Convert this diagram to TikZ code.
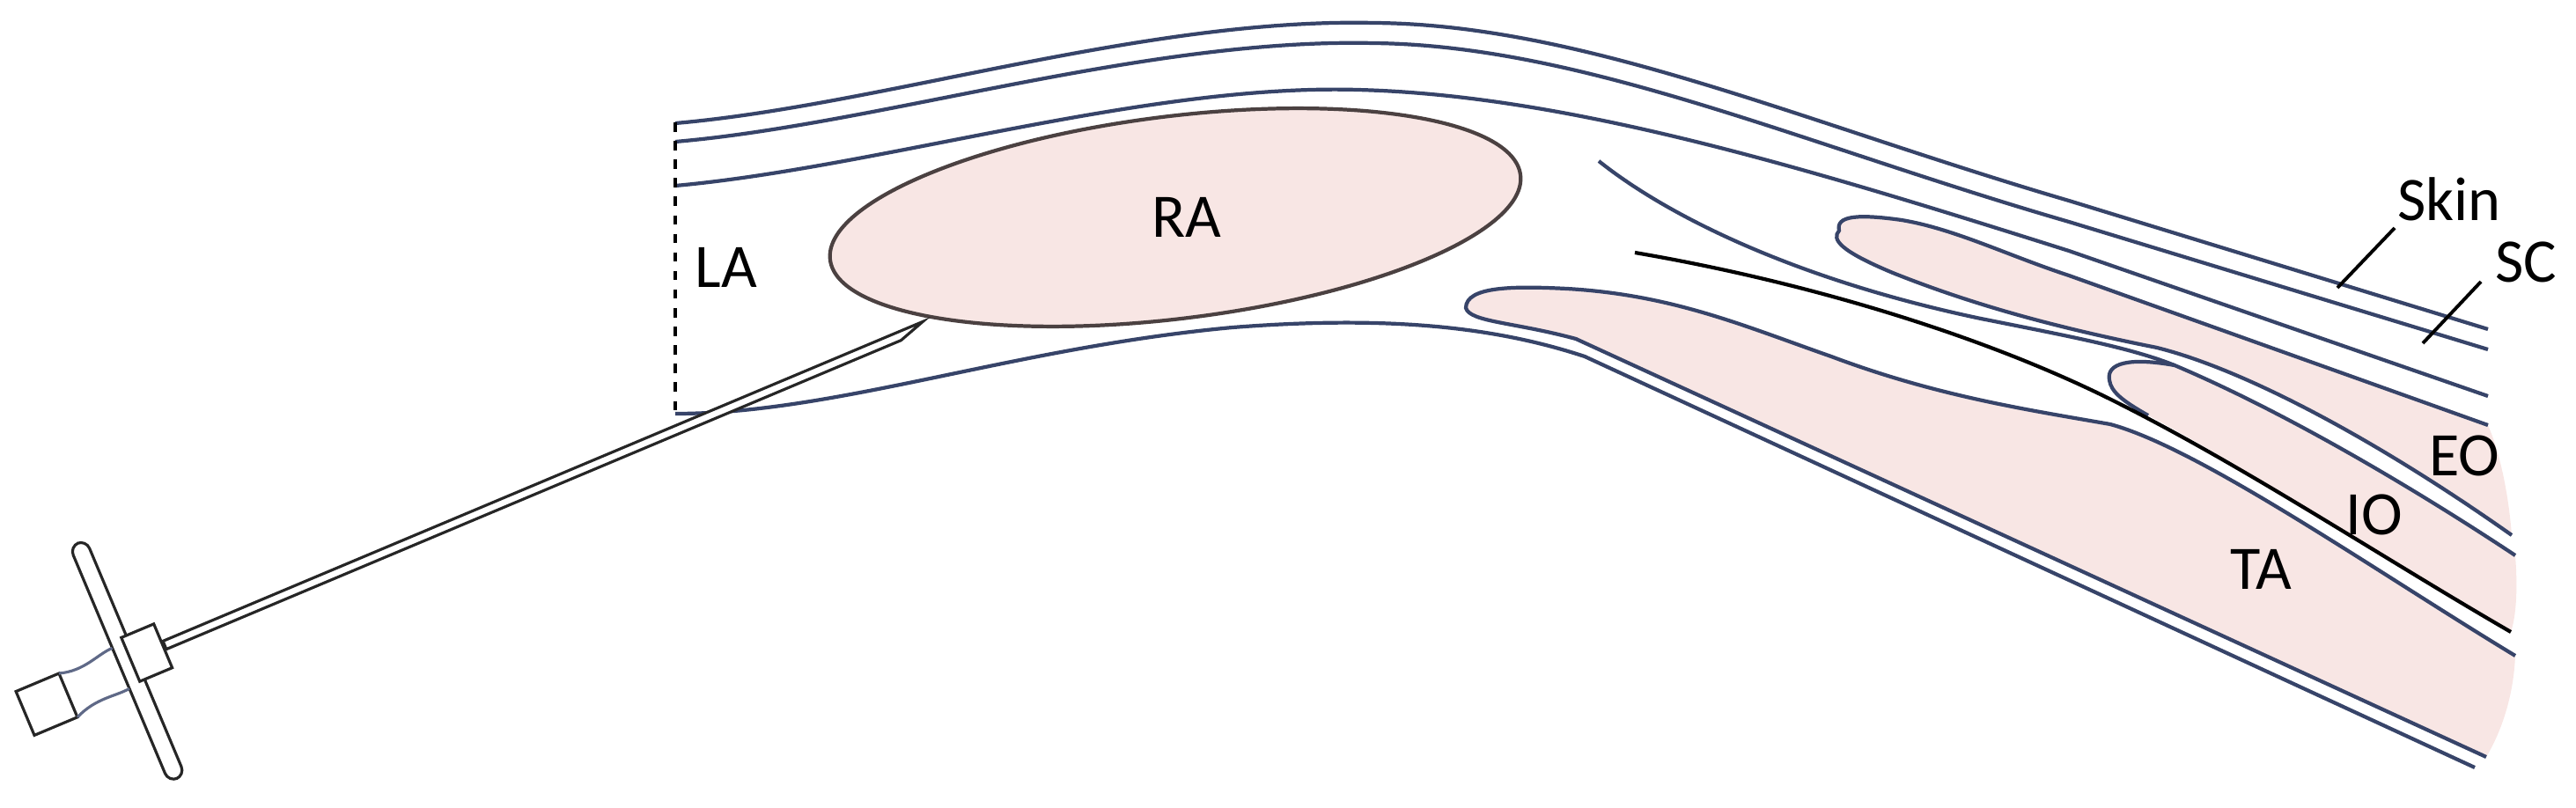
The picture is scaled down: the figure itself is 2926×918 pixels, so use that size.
\documentclass[tikz,border=0pt]{standalone}
\usepackage{fontspec}
\setmainfont{Carlito}
\definecolor{lc}{RGB}{55,68,105}
\definecolor{pinkm}{RGB}{248,230,228}
\definecolor{rac}{RGB}{75,65,65}
\begin{document}
\begin{tikzpicture}[x={(0.01cm,0)},y={(0,-0.01cm)},
  layer/.style={draw=lc,line width=1.2pt},
  muscle/.style={fill=pinkm,draw=none},
  lbl/.style={font=\fontsize{20}{24}\selectfont,inner sep=0pt},
  tick/.style={draw=black,line width=1.1pt},
  needle/.style={draw=black!85,line width=0.9pt,fill=white}]
\useasboundingbox (0,0) rectangle (2926,918);
% muscle fills
\fill[muscle] (2089,262) .. controls (2085,245) and (2110,243) .. (2160,250)
  .. controls (2220,260) and (2280,290) .. (2350,313) -- (2826,483)
  .. controls (2842,520) and (2850,570) .. (2853,608)
  .. controls (2700,500) and (2550,420) .. (2450,395)
  .. controls (2350,375) and (2250,350) .. (2150,310)
  .. controls (2090,285) and (2080,272) .. (2089,262) -- cycle;
\fill[muscle] (2396,432) .. controls (2392,412) and (2420,406) .. (2470,415)
  .. controls (2600,470) and (2750,560) .. (2857,631)
  .. controls (2860,670) and (2858,700) .. (2852,718)
  .. controls (2700,630) and (2550,530) .. (2440,472)
  .. controls (2410,455) and (2398,445) .. (2396,432) -- cycle;
\fill[muscle] (1665,350) .. controls (1665,325) and (1720,325) .. (1780,328)
  .. controls (1900,335) and (1980,370) .. (2080,405)
  .. controls (2200,450) and (2300,465) .. (2397,482)
  .. controls (2500,510) and (2700,650) .. (2857,745)
  .. controls (2855,790) and (2842,830) .. (2824,860)
  -- (1790,385) .. controls (1720,366) and (1670,366) .. (1665,350) -- cycle;
% RA
\draw[fill=pinkm,draw=rac,line width=1.2pt,rotate around={7:(1335,247)}] (1335,247) ellipse [x radius=395,y radius=115];
% skin and fascia lines
\draw[layer] (767,140) .. controls (1000,120) and (1300,20) .. (1561,26) .. controls (1800,28) and (2050,140) .. (2350,228) -- (2826,374);
\draw[layer] (767,161) .. controls (1000,141) and (1300,43) .. (1561,49) .. controls (1800,52) and (2050,165) .. (2350,252) -- (2826,397);
\draw[layer] (767,211) .. controls (1000,190) and (1300,95) .. (1542,102) .. controls (1780,108) and (2050,190) .. (2350,285) -- (2826,450);
% EO outline
\draw[layer] (2853,608) .. controls (2700,500) and (2550,420) .. (2450,395)
  .. controls (2350,375) and (2250,350) .. (2150,310)
  .. controls (2090,285) and (2080,272) .. (2089,262)
  .. controls (2085,245) and (2110,243) .. (2160,250)
  .. controls (2220,260) and (2280,290) .. (2350,313) -- (2826,483);
% line A / IO top
\draw[layer] (1816,183) .. controls (1900,250) and (2050,320) .. (2250,362)
  .. controls (2350,382) and (2420,395) .. (2470,415)
  .. controls (2600,470) and (2750,560) .. (2857,631);
\draw[layer] (2470,415) .. controls (2420,406) and (2392,412) .. (2396,432)
  .. controls (2398,445) and (2410,455) .. (2440,472);
% black line
\draw[black,line width=1.2pt] (1857,287) .. controls (2050,320) and (2250,380) .. (2400,455)
  .. controls (2550,530) and (2700,630) .. (2852,718);
% TA outline
\draw[layer] (2857,745) .. controls (2700,650) and (2500,510) .. (2397,482)
  .. controls (2300,465) and (2200,450) .. (2080,405)
  .. controls (1980,370) and (1900,335) .. (1780,328)
  .. controls (1720,325) and (1665,325) .. (1665,350)
  .. controls (1670,366) and (1720,366) .. (1790,385) -- (2824,860);
% bottom line
\draw[layer] (767,470) .. controls (950,470) and (1150,395) .. (1400,372)
  .. controls (1580,358) and (1700,372) .. (1800,405) -- (2811,872);
% LA dashed boundary
\coordinate (latop) at (767,139);
\coordinate (labot) at (767,470);
\draw[black,dashed,line width=1.2pt] (latop) -- (labot);
% labels
\node[lbl] (la) at (825,304) {LA};
\node[lbl] (ra) at (1348,247) {RA};
\node[lbl] (skin) at (2782,226) {Skin};
\node[lbl] (sc) at (2869,298) {SC};
\node[lbl] (eo) at (2799,518) {EO};
\node[lbl] (io) at (2697,585) {IO};
\node[lbl] (ta) at (2568,647) {TA};
\coordinate (sk1) at (2655,327); \coordinate (sk2) at (2720,259);
\coordinate (sc1) at (2752,390); \coordinate (sc2) at (2818,320);
\draw[tick] (sk1) -- (sk2);
\draw[tick] (sc1) -- (sc2);
% needle
\begin{scope}[shift={(187,733)},x={(0.00922cm,0.00388cm)},y={(0.00388cm,-0.00922cm)}]
  \draw[needle] (0,-5) -- (936,-5) -- (905,5) -- (0,5) -- cycle;
  \draw[needle,rounded corners=3pt] (-56,-145) -- (-36,-145) -- (-36,145) -- (-56,145) -- cycle;
  \draw[needle] (-42,-27) -- (-2,-27) -- (-2,27) -- (-42,27) -- cycle;
  \draw[needle] (-176,-17) -- (-123,-17) -- (-123,37) -- (-176,37) -- cycle;
  \draw[draw=lc!80,line width=0.9pt] (-123,-17) .. controls (-95,-8) and (-75,-20) .. (-56,-20);
  \draw[draw=lc!80,line width=0.9pt] (-123,37) .. controls (-95,25) and (-75,32) .. (-56,30);
\end{scope}
\end{tikzpicture}
\end{document}
